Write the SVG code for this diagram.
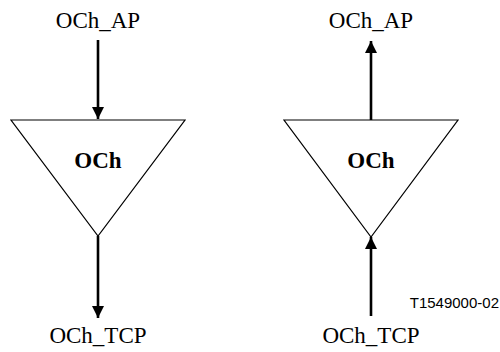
<svg xmlns="http://www.w3.org/2000/svg" width="500" height="352" viewBox="0 0 500 352">
<defs>
<marker id="ah" viewBox="0 0 12 12" refX="12" refY="6" markerWidth="12" markerHeight="12" markerUnits="userSpaceOnUse" orient="auto">
<path d="M0,0 L12,6 L0,12 Z" fill="#000"/>
</marker>
</defs>
<style>
.lbl{font-family:"Liberation Serif","Times New Roman",serif;font-size:23px;fill:#000;text-anchor:middle}
.blk{font-family:"Liberation Serif","Times New Roman",serif;font-size:23px;font-weight:bold;fill:#000;text-anchor:middle}
.tri{fill:#fff;stroke:#000;stroke-width:1.2}
.con{stroke:#000;stroke-width:2.6;fill:none;marker-end:url(#ah)}
.ref{font-family:"Liberation Sans",Arial,sans-serif;font-size:15px;fill:#000;text-anchor:end}
</style>
<rect width="500" height="352" fill="#fff"/>
<g id="connectors">
<line class="con" x1="98" y1="40" x2="98" y2="119"/>
<line class="con" x1="98" y1="236" x2="98" y2="318"/>
<line class="con" x1="371" y1="120" x2="371" y2="41"/>
<line class="con" x1="371" y1="316" x2="371" y2="237"/>
</g>
<g id="node-left">
<polygon class="tri" points="11,120 185,120 98,236"/>
<text class="blk" x="98" y="168">OCh</text>
</g>
<g id="node-right">
<polygon class="tri" points="284,120 458,120 371,237"/>
<text class="blk" x="371" y="168">OCh</text>
</g>
<g id="labels">
<text class="lbl" x="98" y="28">OCh_AP</text>
<text class="lbl" x="98" y="343">OCh_TCP</text>
<text class="lbl" x="371" y="28">OCh_AP</text>
<text class="lbl" x="371" y="343">OCh_TCP</text>
<text class="ref" x="499" y="308">T1549000-02</text>
</g>
</svg>
